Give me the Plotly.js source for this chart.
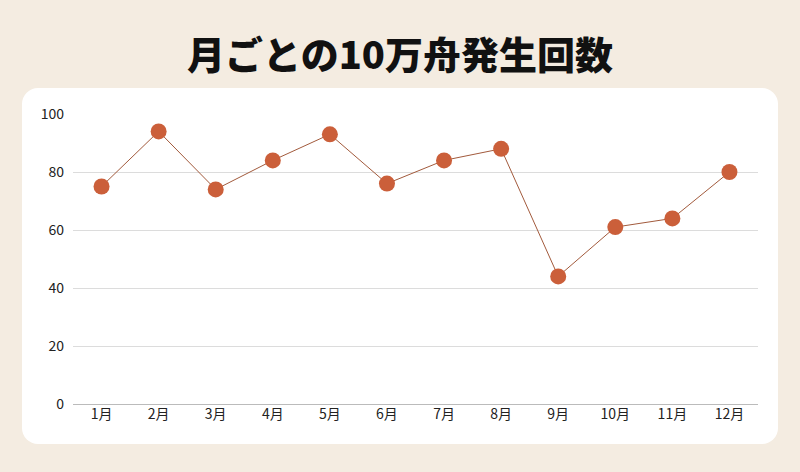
<!DOCTYPE html>
<html>
<head>
<meta charset="utf-8">
<script src="https://cdn.plot.ly/plotly-3.0.1.min.js"></script>
<style>
  html, body { margin: 0; padding: 0; background: #F4ECE1; }
  #panel { position: absolute; left: 22px; top: 88px; width: 756px; height: 356px; background: #ffffff; border-radius: 16px; }
  #plot { position: absolute; left: 0; top: 0; width: 800px; height: 472px; }
</style>
</head>
<body>
<div id="panel"></div>
<div id="plot"></div>
<script>
var months = ["1月", "2月", "3月", "4月", "5月", "6月", "7月", "8月", "9月", "10月", "11月", "12月"];
var counts = [75, 94, 74, 84, 93, 76, 84, 88, 44, 61, 64, 80];
var yTicks = [0, 20, 40, 60, 80, 100];

var pltData = document.getElementById("plot");

var data = [{
  x: months,
  y: counts,
  type: "scatter",
  mode: "lines+markers",
  line: { color: "#A25A3C", width: 1 },
  marker: { color: "#CB5F3A", size: 16 },
  hoverinfo: "x+y"
}];

var layout = {
  width: 800,
  height: 472,
  paper_bgcolor: "rgba(0,0,0,0)",
  plot_bgcolor: "rgba(0,0,0,0)",
  margin: { l: 73, r: 42, t: 114, b: 68 },
  showlegend: false,
  font: { family: "'Noto Sans CJK JP', 'Noto Sans', sans-serif", color: "#222222", size: 14 },
  title: {
    text: "月ごとの10万舟発生回数",
    font: { family: "'Noto Sans CJK JP', sans-serif", size: 38, color: "#111111", weight: 900 },
    x: 0.5,
    xanchor: "center",
    y: 0.882,
    yanchor: "middle"
  },
  xaxis: {
    type: "category",
    range: [-0.5, 11.5],
    showgrid: false,
    zeroline: false,
    showline: false,
    ticks: "",
    tickfont: { size: 14, color: "#222222" },
    fixedrange: true
  },
  yaxis: {
    range: [0, 100],
    tickvals: yTicks,
    showgrid: true,
    gridcolor: "#DCDCDC",
    gridwidth: 1,
    zeroline: true,
    zerolinecolor: "#BBBBBB",
    zerolinewidth: 1,
    showline: false,
    ticks: "",
    ticklabelstandoff: 8,
    tickfont: { size: 14, color: "#222222" },
    fixedrange: true
  }
};

Plotly.newPlot(pltData, data, layout, { displayModeBar: false, staticPlot: true });
</script>
</body>
</html>
